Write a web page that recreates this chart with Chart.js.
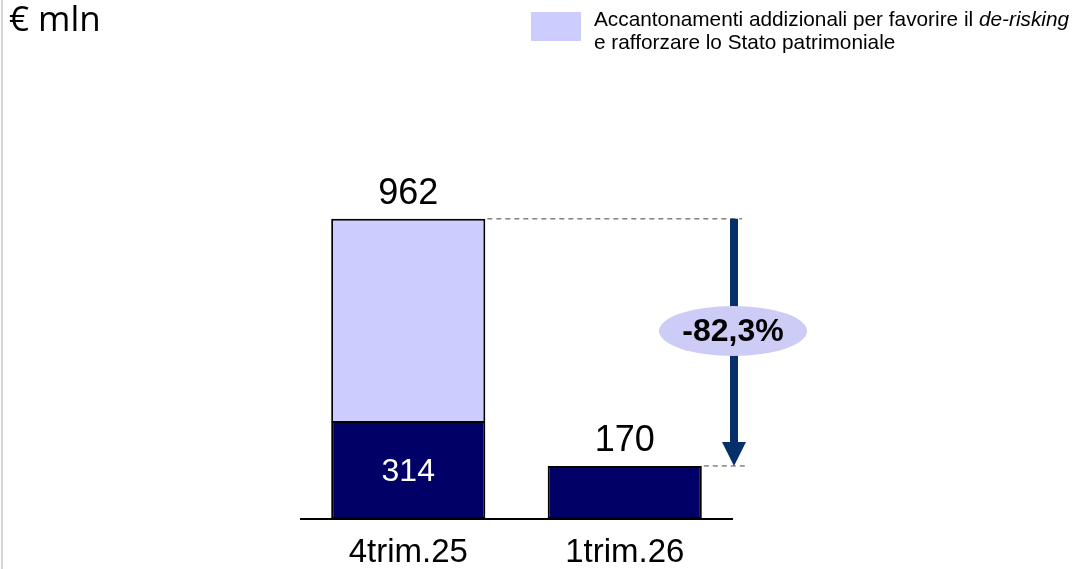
<!DOCTYPE html>
<html>
<head>
<meta charset="utf-8">
<script src="https://cdn.jsdelivr.net/npm/chart.js@4.4.0/dist/chart.umd.min.js"></script>
<style>
  html, body { margin: 0; padding: 0; background: #fff; }
  #wrap { width: 1076px; height: 569px; position: relative; }
</style>
</head>
<body>
<div id="wrap"><canvas id="chart" width="1076" height="569"></canvas></div>
<script>
// Dati del grafico
const categories = ['4trim.25', '1trim.26'];
const baseValues = [314, 170];    // parte blu scuro
const extraValues = [648, 0];     // accantonamenti addizionali
const changeLabel = '-82,3%';
const unitLabel = '€ mln';
const legendLine1 = 'Accantonamenti addizionali per favorire il ';
const legendItalic = 'de-risking';
const legendLine2 = 'e rafforzare lo Stato patrimoniale';

const totals = baseValues.map((v, i) => v + extraValues[i]);

const DARK = '#000066';
const LIGHT = '#ccccff';
const ARROW = '#06306a';
const FONT = '"Liberation Sans", Arial, sans-serif';

// Plugin per etichette, freccia, legenda
const decorations = {
    id: 'decorations',
    afterDatasetsDraw(chart) {
        const ctx = chart.ctx;
        const x = chart.scales.x;
        const y = chart.scales.y;
        const area = chart.chartArea;
        ctx.save();

        // bordo sinistro grigio
        ctx.fillStyle = '#d4d4d4';
        ctx.fillRect(1, 0, 2, chart.height);

        // linea base
        ctx.strokeStyle = '#000';
        ctx.lineWidth = 2;
        ctx.beginPath();
        ctx.moveTo(area.left, area.bottom);
        ctx.lineTo(area.right, area.bottom);
        ctx.stroke();

        // etichette categorie
        ctx.fillStyle = '#000';
        ctx.font = '33px ' + FONT;
        ctx.textAlign = 'center';
        ctx.textBaseline = 'middle';
        categories.forEach((c, i) => {
            ctx.fillText(c, x.getPixelForValue(i), area.bottom + 34);
        });

        // totali sopra le barre
        ctx.font = '36px ' + FONT;
        totals.forEach((t, i) => {
            ctx.fillText(String(t), x.getPixelForValue(i), y.getPixelForValue(t) - 25);
        });

        // valore dentro la barra scura (solo dove c'e' la parte chiara)
        ctx.fillStyle = '#fff';
        ctx.font = '32px ' + FONT;
        baseValues.forEach((v, i) => {
            if (extraValues[i] > 0) {
                ctx.fillText(String(v), x.getPixelForValue(i), (y.getPixelForValue(0) + y.getPixelForValue(v)) / 2 + 2);
            }
        });

        // linee tratteggiate
        const meta0 = chart.getDatasetMeta(1).data[0];
        const meta1 = chart.getDatasetMeta(0).data[1];
        const yTop = y.getPixelForValue(totals[0]);
        const yBot = y.getPixelForValue(totals[1]);
        const ax = area.right + 1;
        ctx.strokeStyle = '#444';
        ctx.lineWidth = 1;
        ctx.setLineDash([5, 4]);
        ctx.beginPath();
        ctx.moveTo(meta0.x + meta0.width / 2 + 2, yTop);
        ctx.lineTo(ax + 8, yTop);
        ctx.moveTo(meta1.x + meta1.width / 2 + 2, yBot);
        ctx.lineTo(ax + 12, yBot);
        ctx.stroke();
        ctx.setLineDash([]);

        // freccia
        ctx.strokeStyle = ARROW;
        ctx.fillStyle = ARROW;
        ctx.lineWidth = 8;
        ctx.beginPath();
        ctx.moveTo(ax, yTop);
        ctx.lineTo(ax, yBot - 22);
        ctx.stroke();
        ctx.beginPath();
        ctx.moveTo(ax - 12, yBot - 24);
        ctx.lineTo(ax + 12, yBot - 24);
        ctx.lineTo(ax, yBot);
        ctx.closePath();
        ctx.fill();

        // ellisse con variazione
        const ey = 331;
        ctx.fillStyle = '#ccccf6';
        ctx.beginPath();
        ctx.ellipse(ax - 1, ey, 74, 25, 0, 0, Math.PI * 2);
        ctx.fill();
        ctx.fillStyle = '#000';
        ctx.font = 'bold 32px ' + FONT;
        ctx.fillText(changeLabel, ax - 1, ey + 1);

        // unita'
        ctx.textAlign = 'left';
        ctx.font = '35px "Open Sans", sans-serif';
        ctx.fillText(unitLabel, 9, 21);

        // legenda
        ctx.fillStyle = LIGHT;
        ctx.fillRect(531, 12, 50, 29);
        ctx.fillStyle = '#000';
        ctx.font = '20.8px ' + FONT;
        ctx.fillText(legendLine1, 594, 20);
        const w = ctx.measureText(legendLine1).width;
        ctx.font = 'italic 20.8px ' + FONT;
        ctx.fillText(legendItalic, 594 + w, 20);
        ctx.font = '20.8px ' + FONT;
        ctx.fillText(legendLine2, 594, 43);

        ctx.restore();
    }
};

new Chart(document.getElementById('chart').getContext('2d'), {
    type: 'bar',
    data: {
        labels: categories,
        datasets: [
            {
                label: 'Base',
                data: baseValues,
                backgroundColor: DARK,
                borderColor: '#000',
                borderWidth: 2,
                borderSkipped: false
            },
            {
                label: 'Accantonamenti addizionali',
                data: extraValues,
                backgroundColor: LIGHT,
                borderColor: '#000',
                borderWidth: 2,
                borderSkipped: 'start'
            }
        ]
    },
    options: {
        responsive: false,
        animation: false,
        layout: { padding: { left: 300, right: 343, top: 207, bottom: 50 } },
        datasets: { bar: { barPercentage: 0.712, categoryPercentage: 1 } },
        scales: {
            x: { stacked: true, display: false },
            y: { stacked: true, display: false, min: 0, max: 1000 }
        },
        plugins: {
            legend: { display: false },
            tooltip: { enabled: false }
        }
    },
    plugins: [decorations]
});
</script>
</body>
</html>
